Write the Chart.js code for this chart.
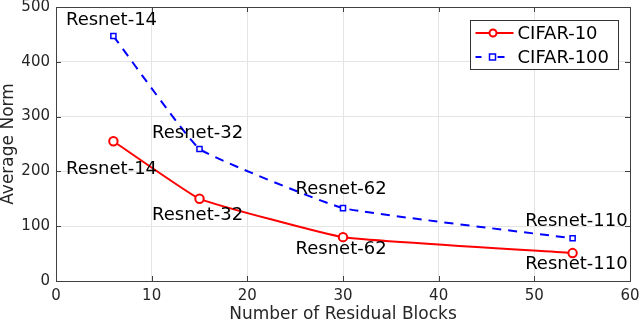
<!DOCTYPE html>
<html><head><meta charset="utf-8">
<script src="https://cdn.jsdelivr.net/npm/chart.js@4"></script>
<style>html,body{margin:0;padding:0;background:#fff}#c{display:block}</style>
</head><body>
<canvas id="c" width="640" height="323"></canvas>
<script>
const blocks = [6, 15, 30, 54];
const cifar10 = [255, 150, 80, 51];
const cifar100 = [447, 241, 133, 78];
const netNames = ['Resnet-14', 'Resnet-32', 'Resnet-62', 'Resnet-110'];
const xTicks = [0, 10, 20, 30, 40, 50, 60];
const yTicks = [0, 100, 200, 300, 400, 500];
// label anchor positions (data coords) for annotations
const labels10 = [[5.8, 204], [14.8, 120], [29.8, 57], [54.4, 31]];
const labels100 = [[5.8, 476], [14.8, 270], [29.8, 168], [54.4, 108]];

const FONT = "'DejaVu Sans', sans-serif";
const AX = '#404040';
const TXT = '#262626';

const deco = {
  id: 'deco',
  afterDatasetsDraw(chart) {
    const {ctx, chartArea: a, scales: {x, y}} = chart;
    ctx.save();
    // inward ticks
    ctx.strokeStyle = AX; ctx.lineWidth = 1;
    ctx.beginPath();
    xTicks.forEach(v => { const px = Math.round(x.getPixelForValue(v)) + 0.5;
      ctx.moveTo(px, a.bottom); ctx.lineTo(px, a.bottom - 5);
      ctx.moveTo(px, a.top); ctx.lineTo(px, a.top + 5); });
    yTicks.forEach(v => { const py = Math.round(y.getPixelForValue(v)) + 0.5;
      ctx.moveTo(a.left, py); ctx.lineTo(a.left + 5, py);
      ctx.moveTo(a.right, py); ctx.lineTo(a.right - 5, py); });
    ctx.stroke();
    // box
    ctx.strokeRect(Math.round(a.left) + 0.5, Math.round(a.top) + 0.5, Math.round(a.right - a.left), Math.round(a.bottom - a.top));
    // annotations
    ctx.fillStyle = '#000';
    ctx.font = '18px ' + FONT;
    ctx.textAlign = 'center'; ctx.textBaseline = 'middle';
    netNames.forEach((n, i) => {
      ctx.fillText(n, x.getPixelForValue(labels100[i][0]), y.getPixelForValue(labels100[i][1]));
      ctx.fillText(n, x.getPixelForValue(labels10[i][0]), y.getPixelForValue(labels10[i][1]));
    });
    // legend
    const lx = 470.5, ly = 20.5, lw = 148, lh = 49;
    ctx.fillStyle = '#fff'; ctx.fillRect(lx, ly, lw, lh);
    ctx.strokeStyle = '#333'; ctx.lineWidth = 1; ctx.strokeRect(lx, ly, lw, lh);
    chart.data.datasets.forEach((ds, i) => {
      const cy = ly + 12.5 + i * 24;
      ctx.strokeStyle = ds.borderColor; ctx.lineWidth = 2;
      ctx.beginPath();
      if (ds.borderDash) { ctx.moveTo(lx + 5, cy); ctx.lineTo(lx + 11, cy); ctx.moveTo(lx + 27, cy); ctx.lineTo(lx + 34, cy); }
      else { ctx.moveTo(lx + 5, cy); ctx.lineTo(lx + 43, cy); }
      ctx.stroke();
      ctx.fillStyle = '#fff';
      if (ds.pointStyle === 'rect') { ctx.lineWidth = 1.5; ctx.fillRect(lx + 19, cy - 3, 6, 6); ctx.strokeRect(lx + 19, cy - 3, 6, 6); }
      else { ctx.beginPath(); ctx.arc(lx + 22.5, cy, 3.5, 0, Math.PI * 2); ctx.fill(); ctx.stroke(); }
      ctx.fillStyle = '#000'; ctx.font = '18px ' + FONT; ctx.textAlign = 'left';
      ctx.fillText(ds.label, lx + 47, cy + 1);
    });
    ctx.restore();
  }
};

new Chart(document.getElementById('c'), {
  type: 'line',
  data: {
    datasets: [
      { label: 'CIFAR-10', data: blocks.map((b, i) => ({x: b, y: cifar10[i]})),
        borderColor: '#ff0000', backgroundColor: '#ffffff', borderWidth: 2,
        pointStyle: 'circle', pointRadius: 4.2, pointBorderWidth: 2,
        tension: 0.1 },
      { label: 'CIFAR-100', data: blocks.map((b, i) => ({x: b, y: cifar100[i]})),
        borderColor: '#0000ff', backgroundColor: '#ffffff', borderWidth: 2, borderDash: [9, 7],
        pointStyle: 'rect', pointRadius: 3.6, pointBorderWidth: 1.5,
        tension: 0.1 }
    ]
  },
  options: {
    responsive: false, animation: false,
    layout: { padding: { left: 0, right: 10, top: 7, bottom: 0 } },
    plugins: { legend: { display: false }, tooltip: { enabled: false } },
    scales: {
      x: { type: 'linear', min: 0, max: 60,
        afterBuildTicks: s => { s.ticks = xTicks.map(v => ({value: v})); },
        afterFit: s => { s.height = 42; s.paddingLeft = 0; s.paddingRight = 0; },
        grid: { color: '#e4e4e4', drawTicks: false },
        border: { display: false },
        ticks: { color: TXT, font: { family: FONT, size: 15 }, padding: 6, maxRotation: 0 },
        title: { display: true, text: 'Number of Residual Blocks', color: TXT, font: { family: FONT, size: 17, lineHeight: 1 }, padding: { top: 0, bottom: 0 } } },
      y: { min: 0, max: 500,
        afterBuildTicks: s => { s.ticks = yTicks.map(v => ({value: v})); },
        afterFit: s => { s.width = 56; s.paddingTop = 0; s.paddingBottom = 0; },
        grid: { color: '#e4e4e4', drawTicks: false },
        border: { display: false },
        ticks: { color: TXT, font: { family: FONT, size: 15 }, padding: 6 },
        title: { display: true, text: 'Average Norm', color: TXT, font: { family: FONT, size: 17, lineHeight: 1 }, padding: { top: 0, bottom: 0 } } }
    }
  },
  plugins: [deco]
});
</script>
</body></html>
